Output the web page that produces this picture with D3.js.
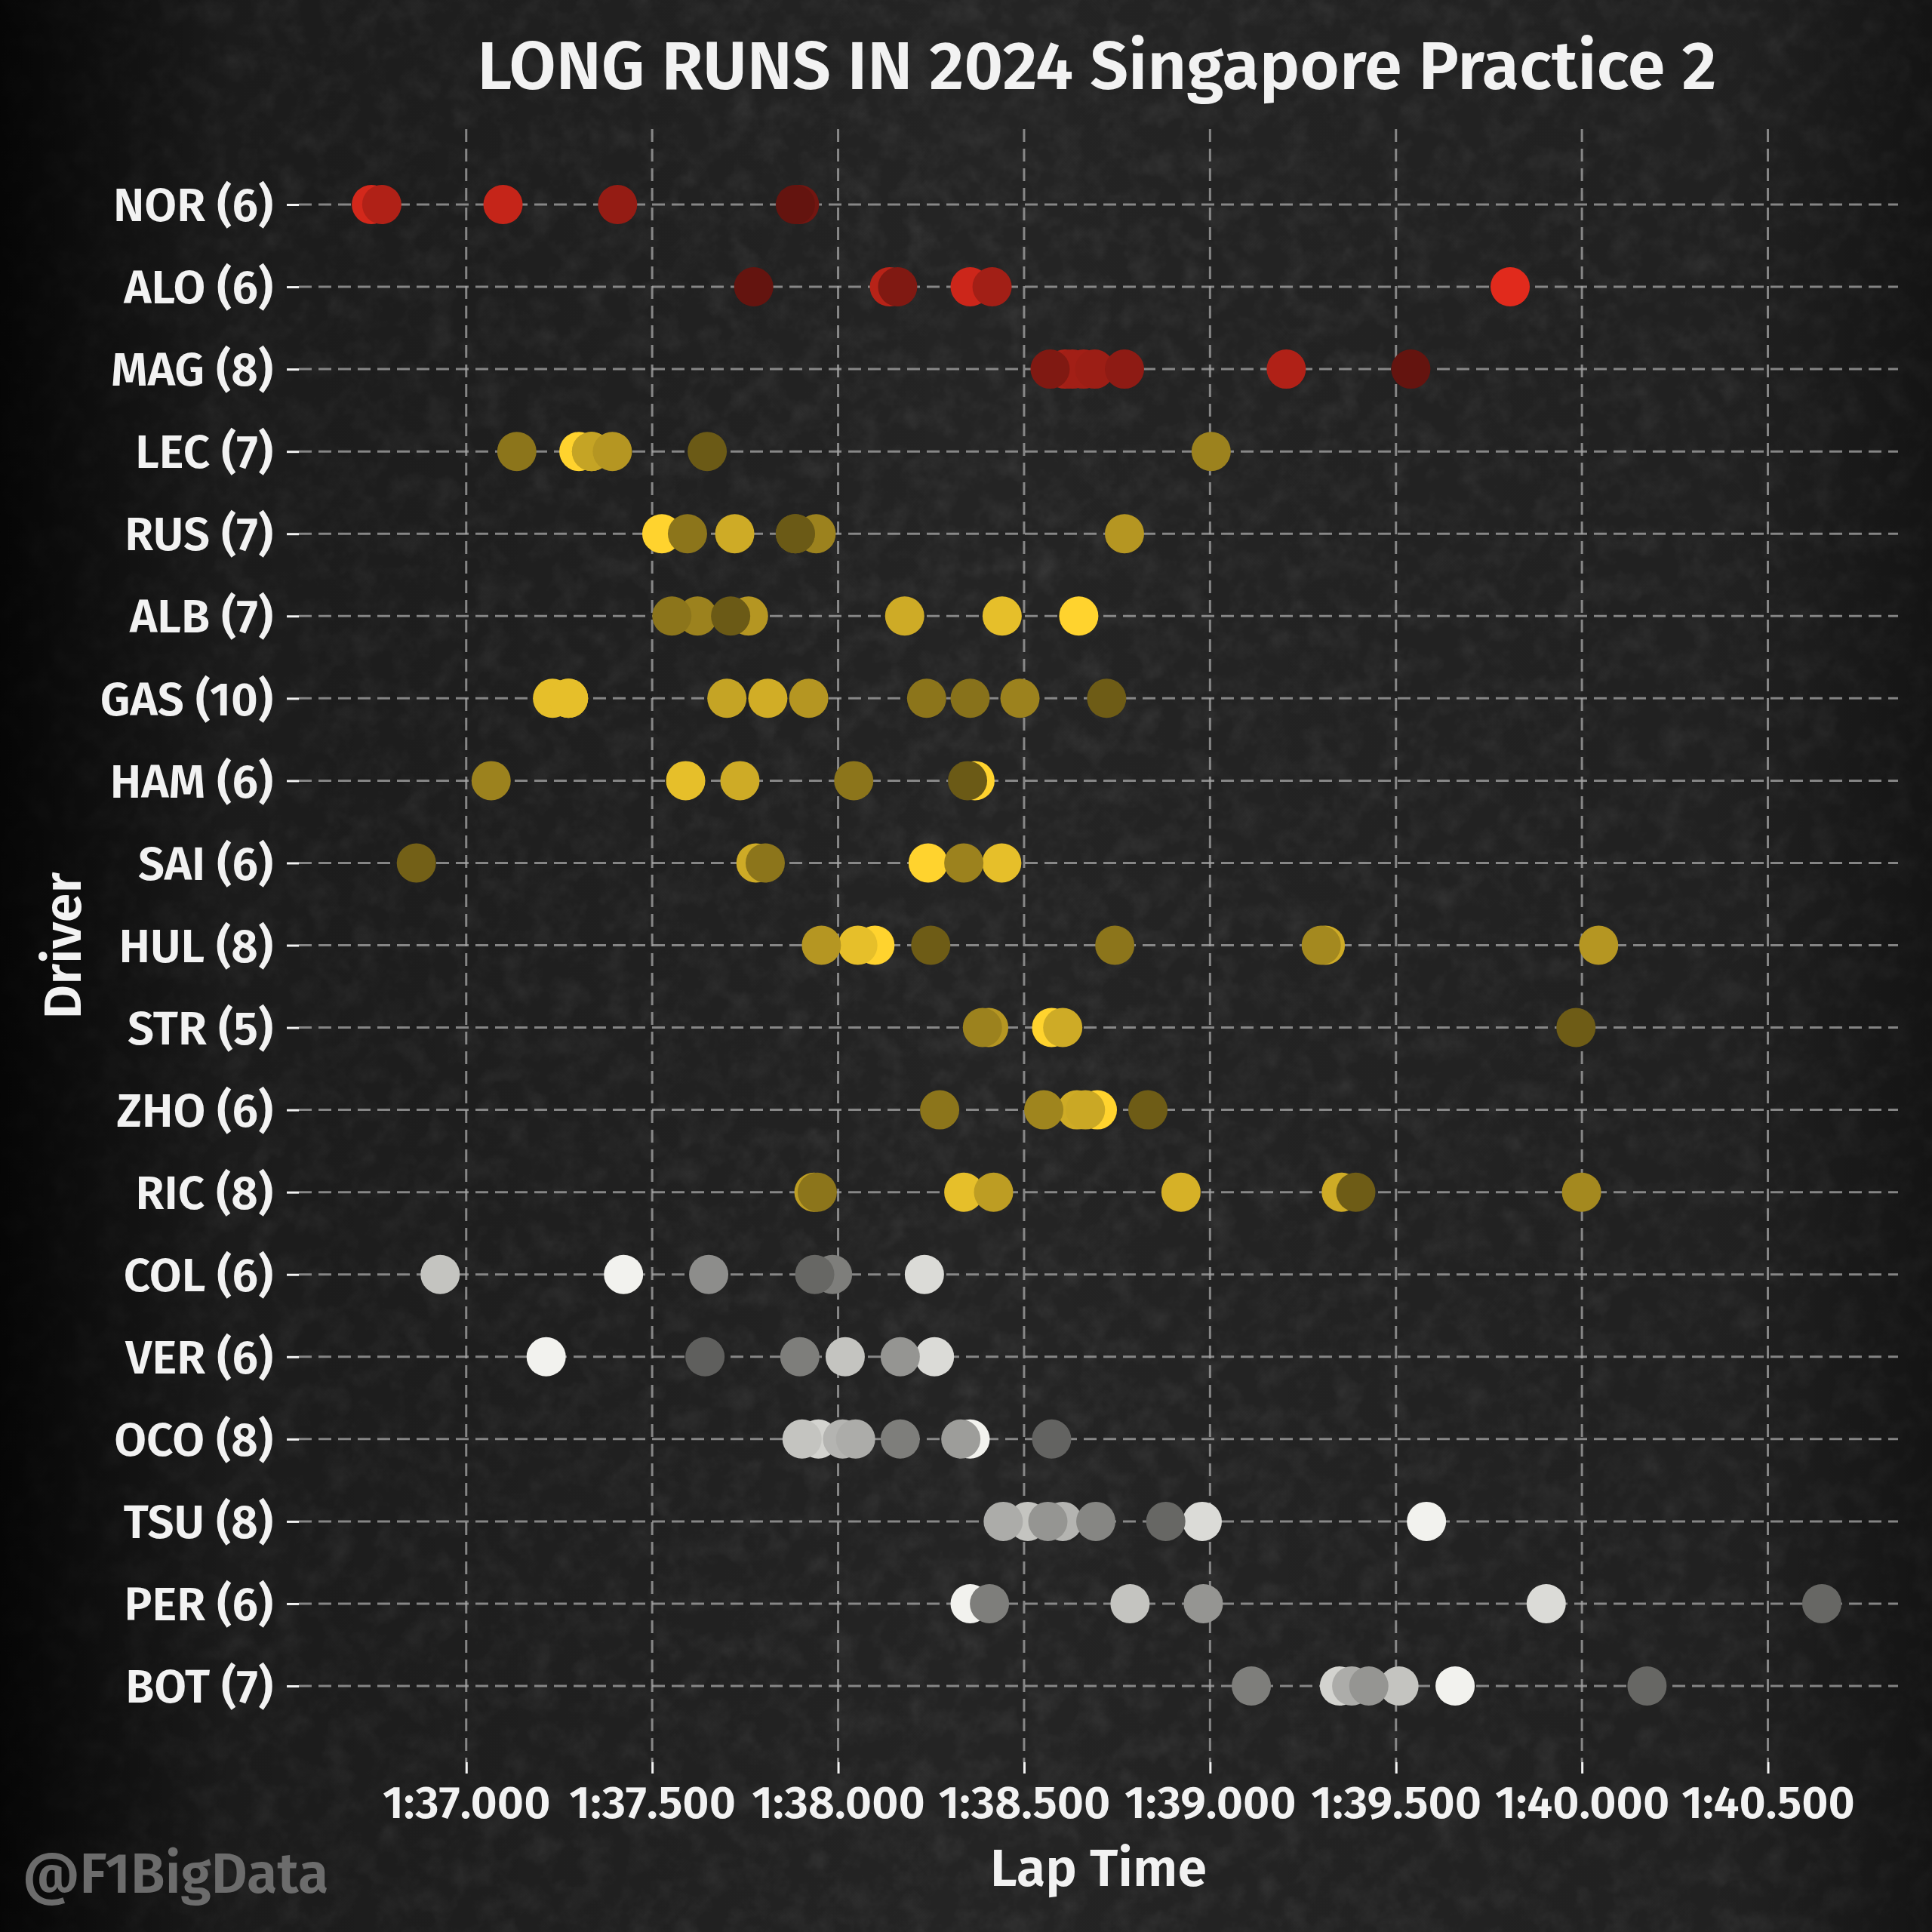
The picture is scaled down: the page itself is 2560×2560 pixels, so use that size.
<!DOCTYPE html>
<html>
<head>
<meta charset="utf-8">
<script src="https://cdn.jsdelivr.net/npm/d3@7"></script>
<style>
  body { margin: 0; background: #141414; }
</style>
</head>
<body>
<div id="chart"></div>
<script>
// drivers top to bottom, with tyre compound of the long run
var drivers = ["NOR","ALO","MAG","LEC","RUS","ALB","GAS","HAM","SAI","HUL","STR","ZHO","RIC","COL","VER","OCO","TSU","PER","BOT"];
var compounds = ["SOFT","SOFT","SOFT","MEDIUM","MEDIUM","MEDIUM","MEDIUM","MEDIUM","MEDIUM","MEDIUM","MEDIUM","MEDIUM","MEDIUM","HARD","HARD","HARD","HARD","HARD","HARD"];

// lap times in seconds, one list per driver (same order as drivers)
var lapTimes = [
  [96.745, 96.773, 97.099, 97.407, 97.885, 97.896],
  [97.773, 98.138, 98.160, 98.355, 98.414, 99.807],
  [98.570, 98.610, 98.630, 98.660, 98.690, 98.770, 99.205, 99.540],
  [97.136, 97.303, 97.337, 97.337, 97.393, 97.648, 99.003],
  [97.526, 97.595, 97.722, 97.885, 97.885, 97.941, 98.770],
  [97.553, 97.622, 97.711, 97.759, 98.179, 98.441, 98.647],
  [97.232, 97.275, 97.275, 97.701, 97.811, 97.921, 98.238, 98.355, 98.489, 98.722],
  [97.067, 97.590, 97.736, 98.042, 98.348, 98.368],
  [96.866, 97.779, 97.804, 98.242, 98.338, 98.440],
  [97.955, 98.053, 98.099, 98.249, 98.744, 99.299, 99.310, 100.045],
  [98.388, 98.405, 98.574, 98.604, 99.984],
  [98.273, 98.553, 98.642, 98.665, 98.697, 98.833],
  [97.935, 97.944, 98.338, 98.418, 98.922, 99.353, 99.392, 99.999],
  [96.930, 97.423, 97.652, 97.937, 97.985, 98.232],
  [97.215, 97.642, 97.897, 98.019, 98.167, 98.259],
  [97.903, 97.947, 98.012, 98.047, 98.167, 98.330, 98.355, 98.574],
  [98.444, 98.510, 98.564, 98.604, 98.693, 98.881, 98.979, 99.582],
  [98.355, 98.407, 98.785, 98.982, 99.904, 100.645],
  [99.111, 99.348, 99.381, 99.427, 99.508, 99.659, 100.175]
];

// brightness of each dot (0 dark .. 1 bright)
var lapShades = [
  [0.9, 0.65, 0.8, 0.45, 0.1, 0.2],
  [0.1, 0.7, 0.3, 0.85, 0.55, 1.0],
  [0.3, 0.6, 0.55, 0.55, 0.5, 0.4, 0.65, 0.1],
  [0.3, 1.0, 0.7, 0.65, 0.55, 0.1, 0.4],
  [1.0, 0.3, 0.7, 0.1, 0.15, 0.4, 0.55],
  [0.3, 0.4, 0.1, 0.55, 0.7, 0.85, 1.0],
  [0.85, 0.85, 0.9, 0.65, 0.72, 0.55, 0.3, 0.28, 0.4, 0.12],
  [0.4, 0.85, 0.7, 0.3, 0.1, 1.0],
  [0.15, 0.7, 0.3, 1.0, 0.4, 0.85],
  [0.55, 0.85, 1.0, 0.12, 0.3, 0.45, 0.7, 0.55],
  [0.4, 0.55, 1.0, 0.7, 0.12],
  [0.3, 0.42, 0.7, 0.68, 1.0, 0.12],
  [0.6, 0.3, 0.85, 0.6, 0.75, 0.7, 0.12, 0.45],
  [0.7, 1.0, 0.35, 0.1, 0.25, 0.85],
  [1.0, 0.05, 0.25, 0.7, 0.4, 0.85],
  [0.7, 0.8, 0.6, 0.55, 0.25, 0.45, 1.0, 0.08],
  [0.55, 0.7, 0.4, 0.6, 0.3, 0.1, 0.85, 1.0],
  [1.0, 0.25, 0.7, 0.4, 0.85, 0.1],
  [0.25, 0.8, 0.55, 0.4, 0.7, 1.0, 0.1]
];

var xTicks = [97, 97.5, 98, 98.5, 99, 99.5, 100, 100.5];

var compoundColor = {
  SOFT:   ["#56110e", "#e12a1c"],
  MEDIUM: ["#5a4c13", "#ffd32e"],
  HARD:   ["#575755", "#f2f2ee"]
};

var W = 2560, H = 2560;
var margin = {top: 171, right: 45, bottom: 225, left: 396};
var font = "'Fira Sans', 'Open Sans', sans-serif";

var svg = d3.select("#chart").append("svg")
  .attr("width", W)
  .attr("height", H)
  .attr("viewBox", `0 0 ${W} ${H}`)
  .attr("font-family", font);

// background: dark concrete-ish texture
var defs = svg.append("defs");
var vig = defs.append("linearGradient").attr("id", "vig").attr("x1", 0).attr("x2", 1).attr("y1", 0).attr("y2", 0);
vig.append("stop").attr("offset", "0").attr("stop-color", "#000").attr("stop-opacity", 0.85);
vig.append("stop").attr("offset", "0.12").attr("stop-color", "#000").attr("stop-opacity", 0.25);
vig.append("stop").attr("offset", "0.5").attr("stop-color", "#000").attr("stop-opacity", 0);
vig.append("stop").attr("offset", "0.9").attr("stop-color", "#000").attr("stop-opacity", 0.1);
vig.append("stop").attr("offset", "1").attr("stop-color", "#000").attr("stop-opacity", 0.45);

var noise = defs.append("filter").attr("id", "noise").attr("x", 0).attr("y", 0).attr("width", "100%").attr("height", "100%");
noise.append("feTurbulence").attr("type", "fractalNoise").attr("baseFrequency", 0.03).attr("numOctaves", 4).attr("seed", 7);
noise.append("feColorMatrix").attr("type", "matrix")
  .attr("values", "0 0 0 0 0.5  0 0 0 0 0.5  0 0 0 0 0.5  0.9 0.9 0.9 0 -1.2");

svg.append("rect").attr("width", W).attr("height", H).attr("fill", "#242424");
svg.append("rect").attr("width", W).attr("height", H).attr("filter", "url(#noise)").attr("opacity", 0.12);
svg.append("rect").attr("width", W).attr("height", H).attr("fill", "url(#vig)");

var x = d3.scaleLinear()
  .domain([96.55, 100.85])
  .range([margin.left, W - margin.right]);

var y = d3.scalePoint()
  .domain(drivers)
  .range([271, 2234]);

var plotTop = margin.top, plotBottom = H - margin.bottom;

// grid
svg.append("g")
  .selectAll("line")
  .data(xTicks)
  .join("line")
  .attr("x1", d => x(d)).attr("x2", d => x(d))
  .attr("y1", plotTop).attr("y2", plotBottom)
  .attr("stroke", "#a8a8a8")
  .attr("stroke-opacity", 0.75)
  .attr("stroke-width", 3)
  .attr("stroke-dasharray", "17,9");

svg.append("g")
  .selectAll("line")
  .data(drivers)
  .join("line")
  .attr("x1", margin.left).attr("x2", W - margin.right)
  .attr("y1", d => y(d)).attr("y2", d => y(d))
  .attr("stroke", "#a8a8a8")
  .attr("stroke-opacity", 0.75)
  .attr("stroke-width", 3)
  .attr("stroke-dasharray", "17,9");

function fmtLap(v) {
  var m = Math.floor(v / 60);
  var s = v - m * 60;
  return m + ":" + d3.format("06.3f")(s);
}

var xAxis = g => g
  .attr("transform", `translate(0,${plotBottom})`)
  .call(d3.axisBottom(x).tickValues(xTicks).tickFormat(fmtLap).tickSize(15))
  .call(g => g.select(".domain").remove())
  .call(g => g.selectAll(".tick line").attr("stroke", "#f2f2f2").attr("stroke-width", 3))
  .call(g => g.selectAll(".tick text")
    .attr("fill", "#f2f2f2")
    .attr("font-family", font)
    .attr("font-weight", "600")
    .attr("font-size", "61px")
    .attr("y", 74)
    .attr("dy", null));

var yAxis = g => g
  .attr("transform", `translate(${margin.left},0)`)
  .call(d3.axisLeft(y).tickSize(16).tickPadding(18)
    .tickFormat((d, i) => `${d} (${lapTimes[i].length})`))
  .call(g => g.select(".domain").remove())
  .call(g => g.selectAll(".tick line").attr("stroke", "#f2f2f2").attr("stroke-width", 3))
  .call(g => g.selectAll(".tick text")
    .attr("fill", "#f2f2f2")
    .attr("font-family", font)
    .attr("font-weight", "600")
    .attr("font-size", "62px")
    .attr("dy", "0.35em"));

svg.append("g").call(xAxis);
svg.append("g").call(yAxis);

// dots: brighter laps first so darker ones sit on top
var points = [];
drivers.forEach((d, i) => {
  var col = d3.scaleLinear().domain([0, 1]).range(compoundColor[compounds[i]]);
  var row = lapTimes[i].map((t, j) => ({driver: d, time: t, shade: lapShades[i][j], color: col(lapShades[i][j])}));
  row.sort((a, b) => b.shade - a.shade);
  points = points.concat(row);
});

svg.append("g")
  .selectAll("circle")
  .data(points)
  .join("circle")
  .attr("cx", d => x(d.time))
  .attr("cy", d => y(d.driver))
  .attr("r", 26)
  .attr("fill", d => d.color);

// titles
svg.append("text")
  .attr("x", (margin.left + W - margin.right) / 2 - 2)
  .attr("y", 118)
  .attr("text-anchor", "middle")
  .attr("fill", "#f2f2f2")
  .attr("font-weight", "600")
  .attr("font-size", "90px")
  .text("LONG RUNS IN 2024 Singapore Practice 2");

svg.append("text")
  .attr("x", (margin.left + W - margin.right) / 2)
  .attr("y", 2499)
  .attr("text-anchor", "middle")
  .attr("fill", "#f2f2f2")
  .attr("font-weight", "600")
  .attr("font-size", "70px")
  .text("Lap Time");

svg.append("text")
  .attr("transform", `translate(107,${(plotTop + plotBottom) / 2}) rotate(-90)`)
  .attr("text-anchor", "middle")
  .attr("fill", "#f2f2f2")
  .attr("font-weight", "600")
  .attr("font-size", "70px")
  .text("Driver");

svg.append("text")
  .attr("x", 30)
  .attr("y", 2508)
  .attr("fill", "#6c6c6c")
  .attr("font-weight", "600")
  .attr("font-size", "74px")
  .text("@F1BigData");
</script>
</body>
</html>
